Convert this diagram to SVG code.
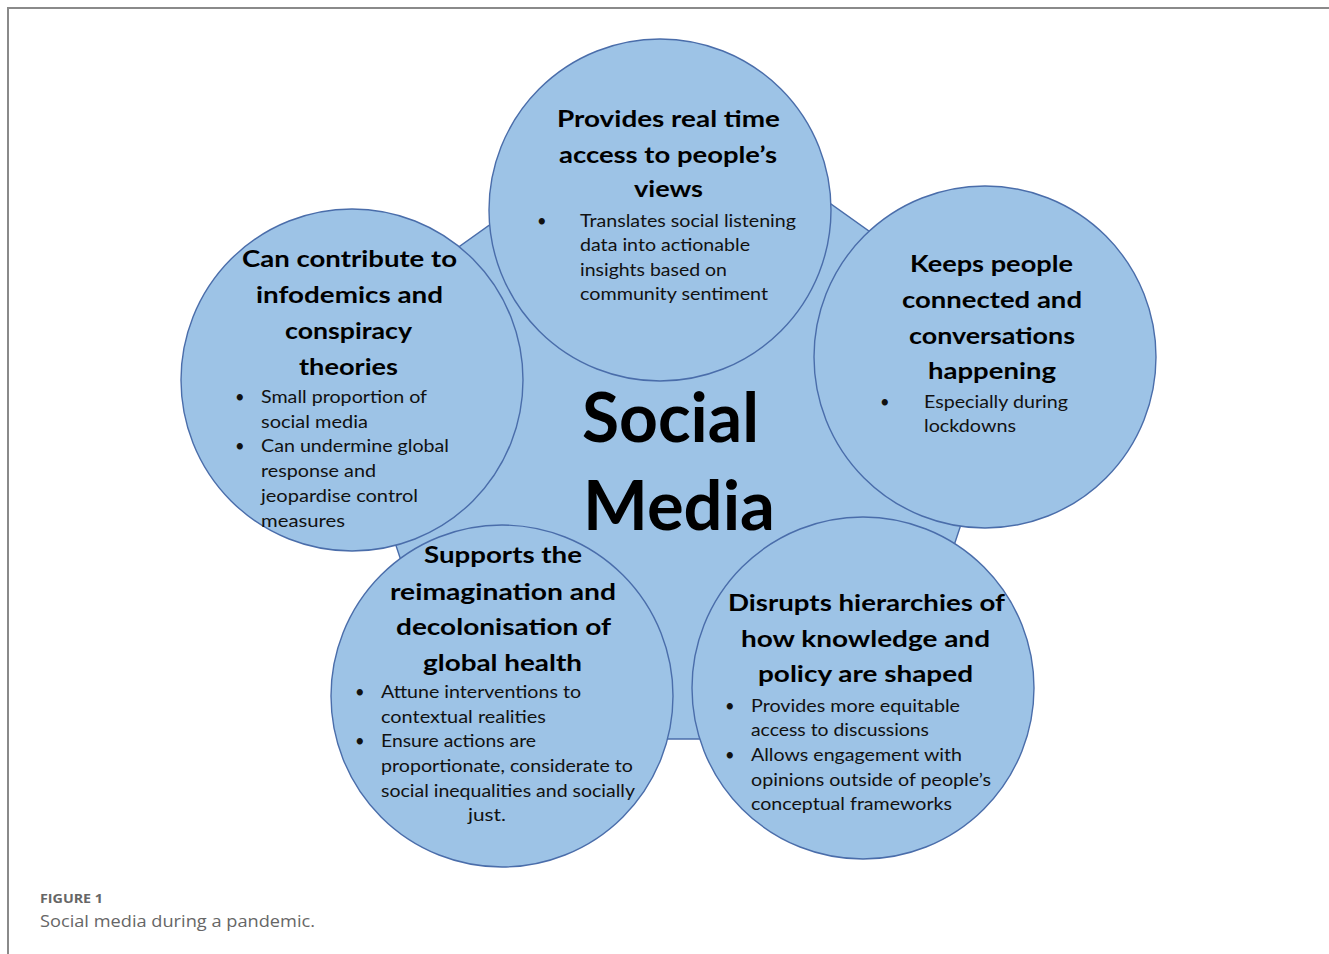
<svg xmlns="http://www.w3.org/2000/svg" width="1329" height="954" viewBox="0 0 1329 954">
<style>
.shape{fill:#9DC3E6;stroke:#4A6DAA;stroke-width:1.4}
.h{font-family:Lato,"Liberation Sans",sans-serif;font-weight:700;font-size:22px;fill:#000}
.b{font-family:Lato,"Liberation Sans",sans-serif;font-weight:400;font-size:16.5px;fill:#111}
.big{font-family:Lato,"Liberation Sans",sans-serif;font-weight:700;font-size:68px;fill:#000}
.cap1{font-family:"Open Sans","Liberation Sans",sans-serif;font-weight:700;font-size:13px;fill:#666}
.cap2{font-family:"Open Sans","Liberation Sans",sans-serif;font-weight:400;font-size:17px;fill:#666}
</style>
<rect width="1329" height="954" fill="#fff"/>
<g id="frame" fill="none" stroke="#8a8a8a" stroke-width="2">
<path d="M8 954 V8 H1329"/>
</g>
<g id="center">
<polygon class="shape" points="675,93 1022,340 890,739 460,739 328,340"/>
<text class="big" x="582" y="442" textLength="177" lengthAdjust="spacingAndGlyphs">Social</text>
<text class="big" x="583" y="530" textLength="192" lengthAdjust="spacingAndGlyphs">Media</text>
</g>
<g id="connectors"/>
<g id="node-top">
<circle class="shape" cx="660" cy="210" r="171"/>
<text class="h" x="557" y="127" textLength="223" lengthAdjust="spacingAndGlyphs">Provides real time</text>
<text class="h" x="559" y="163" textLength="218" lengthAdjust="spacingAndGlyphs">access to people’s</text>
<text class="h" x="634" y="197" textLength="69" lengthAdjust="spacingAndGlyphs">views</text>
<text class="b" x="537" y="227">•</text>
<text class="b" x="580" y="227" textLength="216" lengthAdjust="spacingAndGlyphs">Translates social listening</text>
<text class="b" x="580" y="251" textLength="170" lengthAdjust="spacingAndGlyphs">data into actionable</text>
<text class="b" x="580" y="276" textLength="147" lengthAdjust="spacingAndGlyphs">insights based on</text>
<text class="b" x="580" y="300" textLength="188" lengthAdjust="spacingAndGlyphs">community sentiment</text>
</g>
<g id="node-left">
<circle class="shape" cx="352" cy="380" r="171"/>
<text class="h" x="242" y="267" textLength="215" lengthAdjust="spacingAndGlyphs">Can contribute  to</text>
<text class="h" x="256" y="303" textLength="187" lengthAdjust="spacingAndGlyphs">infodemics and</text>
<text class="h" x="285" y="339" textLength="127" lengthAdjust="spacingAndGlyphs">conspiracy</text>
<text class="h" x="299" y="375" textLength="99" lengthAdjust="spacingAndGlyphs">theories</text>
<text class="b" x="235" y="403">•</text>
<text class="b" x="261" y="403" textLength="166" lengthAdjust="spacingAndGlyphs">Small proportion of</text>
<text class="b" x="261" y="428" textLength="107" lengthAdjust="spacingAndGlyphs">social media</text>
<text class="b" x="235" y="452">•</text>
<text class="b" x="261" y="452" textLength="188" lengthAdjust="spacingAndGlyphs">Can undermine global</text>
<text class="b" x="261" y="477" textLength="115" lengthAdjust="spacingAndGlyphs">response and</text>
<text class="b" x="261" y="502" textLength="157" lengthAdjust="spacingAndGlyphs">jeopardise control</text>
<text class="b" x="261" y="527" textLength="84" lengthAdjust="spacingAndGlyphs">measures</text>
</g>
<g id="node-right">
<circle class="shape" cx="985" cy="357" r="171"/>
<text class="h" x="910" y="272" textLength="163" lengthAdjust="spacingAndGlyphs">Keeps people</text>
<text class="h" x="902" y="308" textLength="180" lengthAdjust="spacingAndGlyphs">connected and</text>
<text class="h" x="909" y="344" textLength="166" lengthAdjust="spacingAndGlyphs">conversations</text>
<text class="h" x="928" y="379" textLength="128" lengthAdjust="spacingAndGlyphs">happening</text>
<text class="b" x="880" y="408">•</text>
<text class="b" x="924" y="408" textLength="144" lengthAdjust="spacingAndGlyphs">Especially during</text>
<text class="b" x="924" y="432" textLength="92" lengthAdjust="spacingAndGlyphs">lockdowns</text>
</g>
<g id="node-bottom-left">
<circle class="shape" cx="502" cy="696" r="171"/>
<text class="h" x="424" y="563" textLength="158" lengthAdjust="spacingAndGlyphs">Supports  the</text>
<text class="h" x="390" y="600" textLength="226" lengthAdjust="spacingAndGlyphs">reimagination  and</text>
<text class="h" x="396" y="635" textLength="215" lengthAdjust="spacingAndGlyphs">decolonisation  of</text>
<text class="h" x="423" y="671" textLength="159" lengthAdjust="spacingAndGlyphs">global  health</text>
<text class="b" x="355" y="698">•</text>
<text class="b" x="381" y="698" textLength="200" lengthAdjust="spacingAndGlyphs">Attune interventions to</text>
<text class="b" x="381" y="723" textLength="165" lengthAdjust="spacingAndGlyphs">contextual realities</text>
<text class="b" x="355" y="747">•</text>
<text class="b" x="381" y="747" textLength="155" lengthAdjust="spacingAndGlyphs">Ensure actions are</text>
<text class="b" x="381" y="772" textLength="252" lengthAdjust="spacingAndGlyphs">proportionate, considerate to</text>
<text class="b" x="381" y="797" textLength="254" lengthAdjust="spacingAndGlyphs">social inequalities and socially</text>
<text class="b" x="468" y="821" textLength="38" lengthAdjust="spacingAndGlyphs">just.</text>
</g>
<g id="node-bottom-right">
<circle class="shape" cx="863" cy="688" r="171"/>
<text class="h" x="728" y="611" textLength="277" lengthAdjust="spacingAndGlyphs">Disrupts  hierarchies of</text>
<text class="h" x="741" y="647" textLength="249" lengthAdjust="spacingAndGlyphs">how knowledge and</text>
<text class="h" x="758" y="682" textLength="215" lengthAdjust="spacingAndGlyphs">policy are shaped</text>
<text class="b" x="725" y="712">•</text>
<text class="b" x="751" y="712" textLength="209" lengthAdjust="spacingAndGlyphs">Provides more equitable</text>
<text class="b" x="751" y="736" textLength="178" lengthAdjust="spacingAndGlyphs">access to discussions</text>
<text class="b" x="725" y="761">•</text>
<text class="b" x="751" y="761" textLength="211" lengthAdjust="spacingAndGlyphs">Allows engagement with</text>
<text class="b" x="751" y="786" textLength="240" lengthAdjust="spacingAndGlyphs">opinions outside of people’s</text>
<text class="b" x="751" y="810" textLength="201" lengthAdjust="spacingAndGlyphs">conceptual frameworks</text>
</g>
<g id="caption">
<text class="cap1" x="40" y="903" textLength="63" lengthAdjust="spacingAndGlyphs">FIGURE 1</text>
<text class="cap2" x="40" y="927" textLength="275" lengthAdjust="spacingAndGlyphs">Social media during a pandemic.</text>
</g>
</svg>
